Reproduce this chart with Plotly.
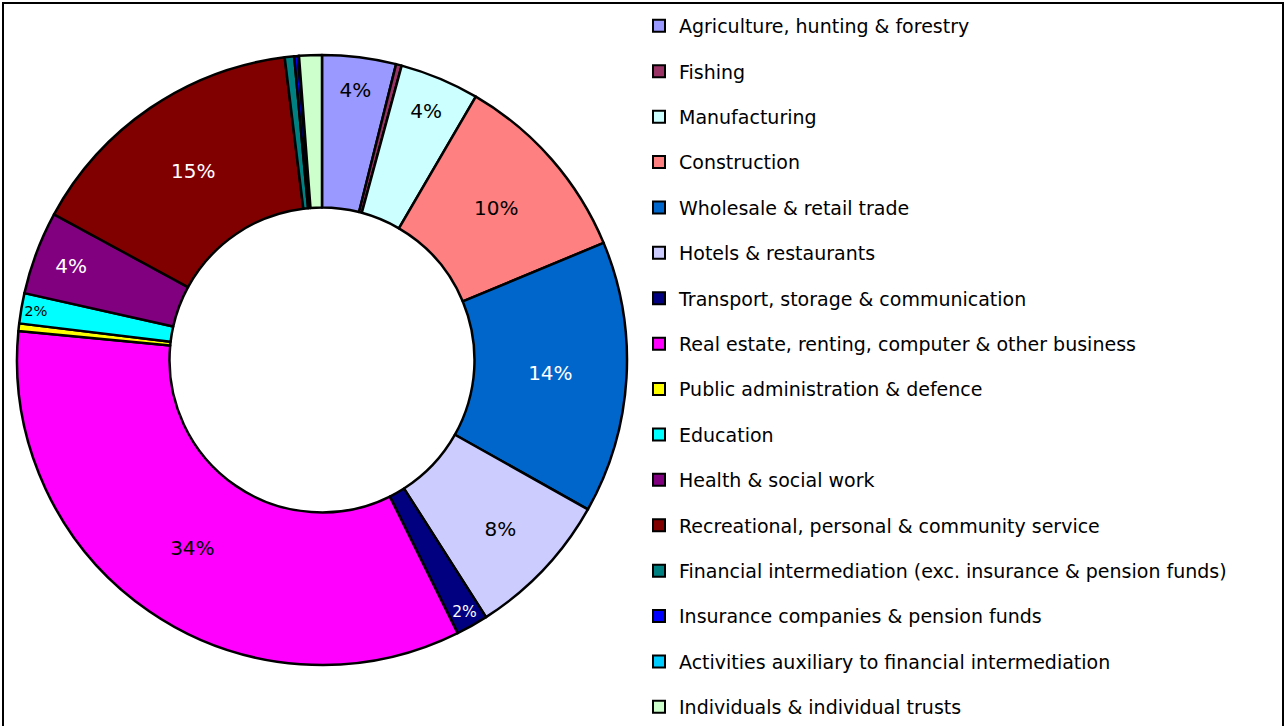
import plotly.graph_objects as go

sectors = [
    "Agriculture, hunting & forestry",
    "Fishing",
    "Manufacturing",
    "Construction",
    "Wholesale & retail trade",
    "Hotels & restaurants",
    "Transport, storage & communication",
    "Real estate, renting, computer & other business",
    "Public administration & defence",
    "Education",
    "Health & social work",
    "Recreational, personal & community service",
    "Financial intermediation (exc. insurance & pension funds)",
    "Insurance companies & pension funds",
    "Activities auxiliary to financial intermediation",
    "Individuals & individual trusts",
]
shares = [3.9, 0.3, 4.2, 10.3, 14.4, 7.8, 1.7, 33.8, 0.4, 1.6, 4.4, 15.1, 0.5, 0.2, 0.05, 1.2]
colors = ["#9999FF", "#993366", "#CCFFFF", "#FF8080", "#0066CC", "#CCCCFF", "#000080",
          "#FF00FF", "#FFFF00", "#00FFFF", "#800080", "#800000", "#008080", "#0000FF",
          "#00CCFF", "#CCFFCC"]
text_colors = ["black", "black", "black", "black", "white", "black", "white", "black",
               "black", "black", "white", "white", "white", "white", "black", "black"]

W, H = 1287, 726
FONT = "DejaVu Sans"

templates = ["%{percent:.0%}" if v >= 1.5 else "" for v in shares]

fig = go.Figure()
fig.add_trace(go.Pie(
    labels=sectors, values=shares, hole=0.5, sort=False, direction="clockwise",
    rotation=0,
    marker=dict(colors=colors, line=dict(color="black", width=2.5)),
    texttemplate=templates, textposition="inside", insidetextorientation="horizontal",
    insidetextfont=dict(family=FONT, size=20, color=text_colors),
    domain=dict(x=[17 / W, 627 / W], y=[61 / H, 671 / H]),
    showlegend=False, hoverinfo="label+percent",
))

# legend entries (one per sector, same colours as the slices)
for i, (name, c) in enumerate(zip(sectors, colors)):
    fig.add_trace(go.Scatter(
        x=[None], y=[None], mode="markers", name=name, legendgroup=f"g{i}",
        marker=dict(symbol="square", size=12, color=c, line=dict(color="black", width=2)),
        hoverinfo="skip",
    ))

fig.update_layout(
    width=W, height=H,
    margin=dict(l=0, r=0, t=0, b=0),
    paper_bgcolor="white", plot_bgcolor="white",
    xaxis=dict(visible=False), yaxis=dict(visible=False),
    font=dict(family=FONT, size=19, color="black"),
    legend=dict(x=639 / W, xanchor="left", y=1 - 12 / H, yanchor="top",
                tracegroupgap=17.7, font=dict(family=FONT, size=19, color="black"),
                bgcolor="rgba(0,0,0,0)", itemsizing="constant", maxheight=1),
    shapes=[dict(type="rect", xref="paper", yref="paper",
                 x0=3 / W, x1=1283 / W, y0=-0.02, y1=1 - 3 / H,
                 line=dict(color="black", width=2), fillcolor="rgba(0,0,0,0)")],
)

fig.write_html("out.html", config={"displayModeBar": False},
               post_script="document.body.style.margin='0';")
